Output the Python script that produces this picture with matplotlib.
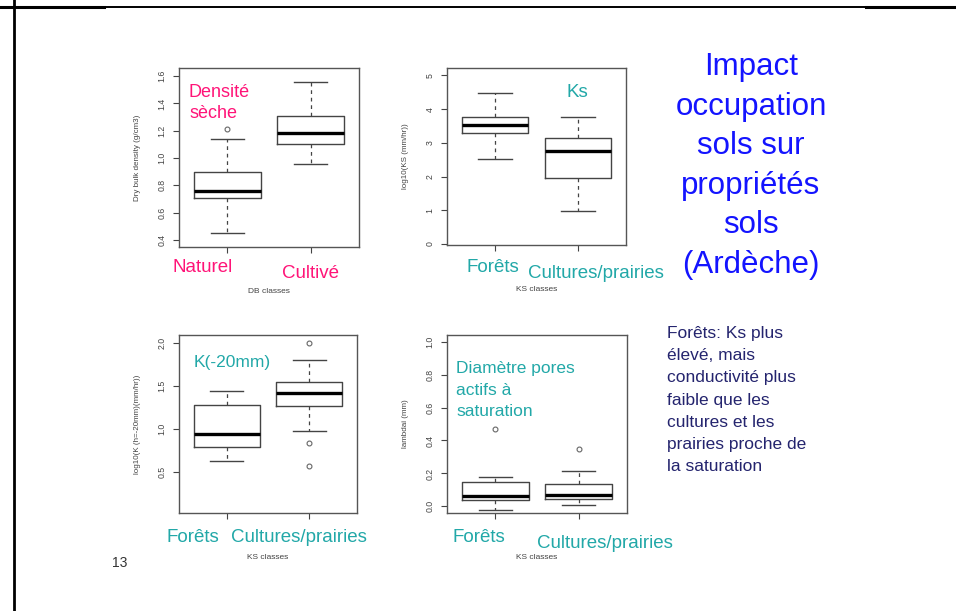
import numpy as np
import matplotlib
matplotlib.use('Agg')
import matplotlib.pyplot as plt
from matplotlib.lines import Line2D

plt.rcParams['font.family'] = ['Liberation Sans', 'DejaVu Sans']

W, H = 956, 611

# ---- data (five-number summaries + outliers) ----
db_whislo = [0.455, 0.955]
db_q1 = [0.705, 1.10]
db_med = [0.76, 1.185]
db_q3 = [0.90, 1.31]
db_whishi = [1.14, 1.555]
db_fliers = [[1.21], []]

ks_whislo = [2.52, 0.98]
ks_q1 = [3.29, 1.95]
ks_med = [3.53, 2.77]
ks_q3 = [3.78, 3.14]
ks_whishi = [4.48, 3.76]
ks_fliers = [[], []]

k20_whislo = [0.63, 0.98]
k20_q1 = [0.79, 1.27]
k20_med = [0.94, 1.42]
k20_q3 = [1.28, 1.55]
k20_whishi = [1.44, 1.80]
k20_fliers = [[], [2.0, 0.835, 0.575]]

lam_whislo = [-0.022, 0.006]
lam_q1 = [0.036, 0.047]
lam_med = [0.066, 0.072]
lam_q3 = [0.147, 0.134]
lam_whishi = [0.178, 0.216]
lam_fliers = [[0.467], [0.35]]

db_ticks = [0.4, 0.6, 0.8, 1.0, 1.2, 1.4, 1.6]
ks_ticks = [0, 1, 2, 3, 4, 5]
k20_ticks = [0.5, 1.0, 1.5, 2.0]
lam_ticks = [0.0, 0.2, 0.4, 0.6, 0.8, 1.0]

pink = '#ff1478'
teal = '#22a8a8'
blue = '#1414ff'
navy = '#24246e'
grey = '#444444'


def stats(lo, q1, med, q3, hi, fl):
    return [dict(whislo=lo[i], q1=q1[i], med=med[i], q3=q3[i], whishi=hi[i], fliers=fl[i])
            for i in range(len(med))]


def fx(x):
    return x / W


def fy(y):
    return 1 - y / H


fig = plt.figure(figsize=(W / 100, H / 100), dpi=100)


def make_ax(left, top, right, bottom, st, ylim, ticks, fmt, ylabel, xlabel):
    ax = fig.add_axes([fx(left), fy(bottom), (right - left) / W, (bottom - top) / H])
    ax.bxp(st, positions=[1, 2], widths=0.8, capwidths=0.4, showfliers=True,
           boxprops=dict(color=grey, lw=1.0),
           medianprops=dict(color='black', lw=2.4),
           whiskerprops=dict(color=grey, lw=0.9, linestyle=(0, (3, 3))),
           capprops=dict(color=grey, lw=1.0),
           flierprops=dict(marker='o', markersize=3.5, markerfacecolor='none',
                           markeredgecolor='#666666', markeredgewidth=0.8))
    ax.set_xlim(0.42, 2.58)
    ax.set_ylim(*ylim)
    ax.set_yticks(ticks)
    ax.set_yticklabels([fmt.format(t) for t in ticks], rotation=90, va='center',
                       fontsize=6.3, color=grey)
    ax.set_xticks([1, 2])
    ax.set_xticklabels(['', ''])
    ax.tick_params(axis='both', direction='out', length=4, width=0.8, color=grey, pad=5)
    for s in ax.spines.values():
        s.set_color('#555555')
        s.set_linewidth(1.0)
    ax.set_ylabel(ylabel, fontsize=5.8, color=grey)
    ax.yaxis.set_label_coords(-38 / (right - left), 0.5)
    ax.set_xlabel(xlabel, fontsize=6, color=grey)
    ax.xaxis.set_label_coords(0.5, -41 / (bottom - top))
    return ax


make_ax(179, 68, 359, 247, stats(db_whislo, db_q1, db_med, db_q3, db_whishi, db_fliers),
        (0.349, 1.659), db_ticks, '{:.1f}', 'Dry bulk density (g/cm3)', 'DB classes')
make_ax(447, 68, 626, 245, stats(ks_whislo, ks_q1, ks_med, ks_q3, ks_whishi, ks_fliers),
        (-0.03, 5.22), ks_ticks, '{:d}', 'log10(KS (mm/hr))', 'KS classes')
make_ax(179, 335, 357, 513, stats(k20_whislo, k20_q1, k20_med, k20_q3, k20_whishi, k20_fliers),
        (0.025, 2.09), k20_ticks, '{:.1f}', 'log10(K (h=-20mm)(mm/hr))', 'KS classes')
make_ax(447, 335, 627, 513, stats(lam_whislo, lam_q1, lam_med, lam_q3, lam_whishi, lam_fliers),
        (-0.04, 1.04), lam_ticks, '{:.1f}', 'lambdai (mm)', 'KS classes')


def txt(x, y, s, color, size, **kw):
    fig.text(fx(x), fy(y), s, color=color, fontsize=size, va='baseline', **kw)


# panel annotations (slide overlays)
txt(189, 97, 'Densité', pink, 13)
txt(189, 118, 'sèche', pink, 13)
txt(173, 272, 'Naturel', pink, 13.5)
txt(282, 278, 'Cultivé', pink, 13.5)

txt(567, 97, 'Ks', teal, 13.5)
txt(466, 272, 'Forêts', teal, 13.5)
txt(528, 278, 'Cultures/prairies', teal, 13.5)

txt(194, 367, 'K(-20mm)', teal, 12.5)
txt(166, 542, 'Forêts', teal, 13.5)
txt(231, 542, 'Cultures/prairies', teal, 13.5)

for i, line in enumerate(['Diamètre pores', 'actifs à', 'saturation']):
    txt(456, 373 + i * 21.7, line, teal, 12.5)
txt(453, 542, 'Forêts', teal, 13.5)
txt(537, 548, 'Cultures/prairies', teal, 13.5)

# title block
title_lines = ['Impact', 'occupation', 'sols sur', 'propriétés', 'sols', '(Ardèche)']
for i, line in enumerate(title_lines):
    txt(751, 75 + i * 39.6, line, blue, 22.5, ha='center')

note_lines = ['Forêts: Ks plus', 'élevé, mais', 'conductivité plus', 'faible que les',
              'cultures et les', 'prairies proche de', 'la saturation']
for i, line in enumerate(note_lines):
    txt(667, 338 + i * 22.2, line, navy, 12.5)

txt(112, 567, '13', '#333333', 10)

# slide frame lines
fig.add_artist(Line2D([fx(13.5), fx(13.5)], [0, 1], color='black', lw=2.0))
fig.add_artist(Line2D([0, fx(104)], [fy(7), fy(7)], color='black', lw=2.2))
fig.add_artist(Line2D([fx(104), fx(866)], [fy(7), fy(7)], color='black', lw=1.4))
fig.add_artist(Line2D([fx(866), 1], [fy(7), fy(7)], color='black', lw=2.2))

plt.savefig('out.png', dpi=100)
